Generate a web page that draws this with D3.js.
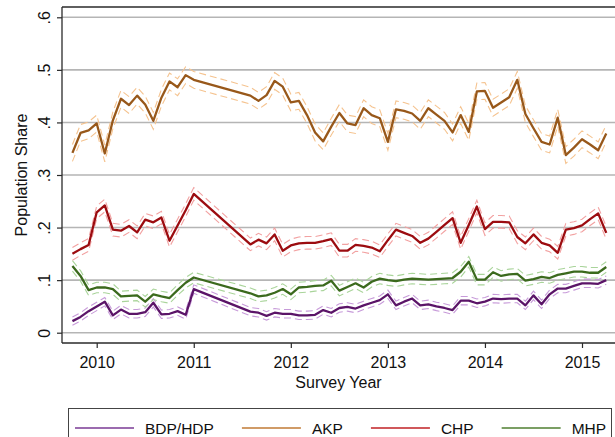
<!DOCTYPE html>
<html>
<head>
<meta charset="utf-8">
<script src="https://cdn.jsdelivr.net/npm/d3@7/dist/d3.min.js"></script>
<style>
  body { margin: 0; background: #fff; }
  text { font-family: "Liberation Sans", Arial, Helvetica, sans-serif; fill: #111; }
</style>
</head>
<body>
<div id="chart-area"></div>
<script>
// survey months (gap between Jan 2011 and Aug 2011)
var months = [
  "2009-10","2009-11","2009-12",
  "2010-01","2010-02","2010-03","2010-04","2010-05","2010-06","2010-07","2010-08","2010-09","2010-10","2010-11","2010-12",
  "2011-01",
  "2011-08","2011-09","2011-10","2011-11","2011-12",
  "2012-01","2012-02","2012-03","2012-04","2012-05","2012-06","2012-07","2012-08","2012-09","2012-10","2012-11","2012-12",
  "2013-01","2013-02","2013-03","2013-04","2013-05","2013-06","2013-07","2013-08","2013-09","2013-10","2013-11","2013-12",
  "2014-01","2014-02","2014-03","2014-04","2014-05","2014-06","2014-07","2014-08","2014-09","2014-10","2014-11","2014-12",
  "2015-01","2015-02","2015-03","2015-04"
];

var bdp = [
  .022,.030,.041,
  .050,.059,.033,.044,.036,.036,.039,.057,.035,.036,.041,.034,
  .083,
  .040,.038,.032,.038,.036,
  .036,.033,.033,.034,.043,.038,.047,.049,.046,.052,.057,.062,
  .073,.052,.059,.065,.052,.054,.050,.047,.043,.061,.061,.056,
  .059,.065,.064,.065,.065,.052,.071,.054,.073,.084,.084,.089,
  .094,.094,.093,.100
];
var akp = [
  .342,.380,.385,
  .398,.341,.404,.445,.433,.451,.434,.403,.447,.478,.467,.490,
  .481,
  .451,.441,.452,.479,.468,
  .438,.441,.414,.381,.364,.392,.418,.398,.395,.427,.414,.408,
  .363,.425,.422,.417,.403,.427,.415,.403,.381,.414,.382,.459,
  .460,.428,.438,.448,.481,.416,.389,.363,.358,.409,.338,.352,
  .368,.358,.347,.379
];
var chp = [
  .150,.159,.167,
  .229,.242,.196,.194,.203,.191,.215,.210,.219,.175,.204,.233,
  .264,
  .168,.177,.170,.187,.156,
  .166,.170,.171,.171,.174,.178,.156,.156,.167,.165,.162,.155,
  .176,.196,.190,.184,.171,.179,.192,.205,.218,.171,.205,.240,
  .197,.211,.211,.210,.182,.170,.187,.171,.166,.152,.196,.199,
  .204,.216,.227,.190
];
var mhp = [
  .127,.108,.081,
  .086,.086,.083,.069,.070,.071,.059,.073,.069,.066,.081,.095,
  .105,
  .075,.069,.071,.076,.083,
  .073,.086,.087,.089,.090,.099,.080,.087,.094,.086,.097,.103,
  .100,.098,.101,.103,.102,.101,.102,.103,.104,.116,.135,.101,
  .101,.115,.108,.111,.112,.099,.102,.106,.104,.110,.113,.116,
  .116,.114,.114,.125
];

// half-width of the confidence bands (dashed)
var ciBdp = .008, ciAkp = .016, ciChp = .012, ciMhp = .010;

var parties = ["BDP/HDP", "AKP", "CHP", "MHP"];
var yTicks = [0, .1, .2, .3, .4, .5, .6];
var xTicks = [2010, 2011, 2012, 2013, 2014, 2015];

var width = 615,
    height = 437;

var plotLeft = 62, plotRight = 615, plotTop = 7, plotBottom = 343;

var series = [
  { name: "BDP/HDP", values: bdp, ci: ciBdp, color: "#5b1468", band: "#c79ad9", key: "#7a3a95" },
  { name: "AKP",     values: akp, ci: ciAkp, color: "#98581a", band: "#f5c38f", key: "#c07a35" },
  { name: "CHP",     values: chp, ci: ciChp, color: "#9c0c10", band: "#f2a1a1", key: "#c02124" },
  { name: "MHP",     values: mhp, ci: ciMhp, color: "#3b6a1d", band: "#a9d49a", key: "#4f7f31" }
];

function toYear(m) {
  var p = m.split("-");
  return +p[0] + (+p[1] - 1) / 12;
}

var x = d3.scaleLinear()
    .domain([2010, 2015])
    .range([96.7, 582]);

var y = d3.scaleLinear()
    .domain([0, .6])
    .range([332.7, 17.3]);

var svg = d3.select("#chart-area")
    .append("svg")
        .attr("width", width)
        .attr("height", height);

// gridlines
svg.append("g")
    .selectAll("line")
    .data(yTicks)
  .enter().append("line")
    .attr("x1", plotLeft)
    .attr("x2", plotRight)
    .attr("y1", function(d) { return y(d); })
    .attr("y2", function(d) { return y(d); })
    .attr("stroke", "#b5b5b5")
    .attr("stroke-width", 1.6);

// frame
svg.append("line")
    .attr("x1", plotLeft).attr("x2", plotRight)
    .attr("y1", plotTop).attr("y2", plotTop)
    .attr("stroke", "#2a2a2a").attr("stroke-width", 1.3);
svg.append("line")
    .attr("x1", plotLeft).attr("x2", plotLeft)
    .attr("y1", plotTop).attr("y2", plotBottom)
    .attr("stroke", "#2a2a2a").attr("stroke-width", 1.3);
svg.append("line")
    .attr("x1", plotLeft).attr("x2", plotRight)
    .attr("y1", plotBottom).attr("y2", plotBottom)
    .attr("stroke", "#2a2a2a").attr("stroke-width", 1.3);

// y axis
var yAxis = d3.axisLeft(y)
    .tickValues(yTicks)
    .tickSizeOuter(0)
    .tickSize(5)
    .tickFormat(function(d) { return d === 0 ? "0" : d3.format(".1f")(d).replace(/^0/, ""); });

var gy = svg.append("g")
    .attr("transform", "translate(" + plotLeft + ",0)")
    .call(yAxis);
gy.select(".domain").remove();
gy.selectAll(".tick line").attr("stroke", "#2a2a2a").attr("stroke-width", 1.2);
gy.selectAll(".tick text")
    .attr("transform", "rotate(-90)")
    .attr("x", 0)
    .attr("y", -12)
    .attr("dy", null)
    .attr("text-anchor", "middle")
    .style("font-size", "16px")
    .style("fill", "#111");

// x axis
var xAxis = d3.axisBottom(x)
    .tickValues(xTicks)
    .tickSizeOuter(0)
    .tickSize(5)
    .tickFormat(d3.format("d"));

var gx = svg.append("g")
    .attr("transform", "translate(0," + plotBottom + ")")
    .call(xAxis);
gx.select(".domain").remove();
gx.selectAll(".tick line").attr("stroke", "#2a2a2a").attr("stroke-width", 1.2);
gx.selectAll(".tick text")
    .attr("y", 13.5)
    .style("font-size", "16px")
    .style("fill", "#111");

// axis titles
svg.append("text")
    .attr("x", (plotLeft + plotRight) / 2)
    .attr("y", 388)
    .attr("text-anchor", "middle")
    .style("font-size", "16px")
    .text("Survey Year");

svg.append("text")
    .attr("transform", "translate(27," + (plotTop + plotBottom) / 2 + ") rotate(-90)")
    .attr("text-anchor", "middle")
    .style("font-size", "16px")
    .text("Population Share");

// lines
var line = d3.line()
    .x(function(d) { return x(d.t); })
    .y(function(d) { return y(d.v); });

series.forEach(function(s) {
  var pts = s.values.map(function(v, i) { return { t: toYear(months[i]), v: v }; });
  var lo = pts.map(function(d) { return { t: d.t, v: d.v - s.ci }; });
  var hi = pts.map(function(d) { return { t: d.t, v: d.v + s.ci }; });

  [lo, hi].forEach(function(b) {
    svg.append("path")
        .datum(b)
        .attr("d", line)
        .attr("fill", "none")
        .attr("stroke", s.band)
        .attr("stroke-width", 1.1)
        .attr("stroke-dasharray", "7,4");
  });

  svg.append("path")
      .datum(pts)
      .attr("d", line)
      .attr("fill", "none")
      .attr("stroke", s.color)
      .attr("stroke-width", 2.3)
      .attr("stroke-linejoin", "round");
});

// legend
var legend = svg.append("g");
legend.append("rect")
    .attr("x", 68.5)
    .attr("y", 408.5)
    .attr("width", 543)
    .attr("height", 45)
    .attr("fill", "#fff")
    .attr("stroke", "#444")
    .attr("stroke-width", 1);

var cursor = 75;
series.forEach(function(s) {
  legend.append("line")
      .attr("x1", cursor)
      .attr("x2", cursor + 59)
      .attr("y1", 428)
      .attr("y2", 428)
      .attr("stroke", s.key)
      .attr("stroke-width", 1.6);
  var t = legend.append("text")
      .attr("x", cursor + 70)
      .attr("y", 433.5)
      .style("font-size", "15.5px")
      .text(s.name);
  cursor = cursor + 70 + t.node().getComputedTextLength() + 28;
});
</script>
</body>
</html>
